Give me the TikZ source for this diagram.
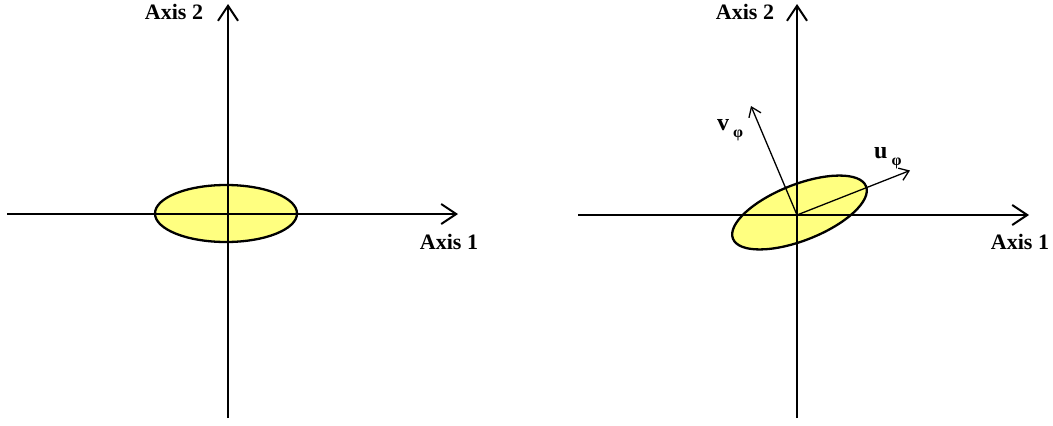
\documentclass[tikz,border=0pt]{standalone}
\usepackage{fontspec}
\setmainfont{Liberation Serif}
\usetikzlibrary{arrows.meta,shapes.geometric}
\tikzset{
  axis/.style={line width=2pt, -{Straight Barb[length=15pt,width=20pt,line width=2pt]}},
  vec/.style={line width=1.3pt, -{Straight Barb[length=9pt,width=13pt,line width=1.3pt]}},
  ell/.style={draw=black, line width=2.3pt, fill={rgb,255:red,255;green,255;blue,128}},
  lbl/.style={inner sep=0pt, font=\bfseries\fontsize{22}{26}\selectfont},
  vlbl/.style={inner sep=0pt, font=\bfseries\fontsize{24}{28}\selectfont}
}
\newcommand{\phisub}{\raisebox{-0.28em}{\fontsize{16}{17}\selectfont φ}}
\begin{document}
\begin{tikzpicture}[x=1pt,y=-1pt]
\useasboundingbox (0,0) rectangle (1053,426);
% left panel
\coordinate (L1s) at (7,214);
\coordinate (L1e) at (458,214);
\coordinate (L2s) at (228,418);
\coordinate (L2e) at (228,4);
\node[ell, ellipse, minimum width=142pt, minimum height=57pt, inner sep=0pt] (lell) at (226,213.5) {};
\draw[axis] (L1s) -- (L1e);
\draw[axis] (L2s) -- (L2e);
\node[lbl] (lax2) at (174,12) {Axis 2};
\node[lbl] (lax1) at (449,242) {Axis 1};
% right panel
\coordinate (O) at (797,215);
\coordinate (R1s) at (578,215);
\coordinate (R1e) at (1029,215);
\coordinate (R2s) at (797,418);
\coordinate (R2e) at (797,4);
\node[ell, ellipse, minimum width=143pt, minimum height=56pt, inner sep=0pt, rotate=21.5] (rell) at (799.5,212.5) {};
\draw[axis] (R1s) -- (R1e);
\draw[axis] (R2s) -- (R2e);
\coordinate (U) at (910,170.5);
\coordinate (V) at (751,106);
\draw[vec] (O) -- (U);
\draw[vec] (O) -- (V);
\node[lbl] (rax2) at (745,12) {Axis 2};
\node[lbl] (rax1) at (1020,242) {Axis 1};
\node[vlbl, anchor=base west] (vl) at (717,130.5) {v\,\phisub};
\node[vlbl, anchor=base west] (ul) at (874,158.5) {u\,\phisub};
\end{tikzpicture}
\end{document}
